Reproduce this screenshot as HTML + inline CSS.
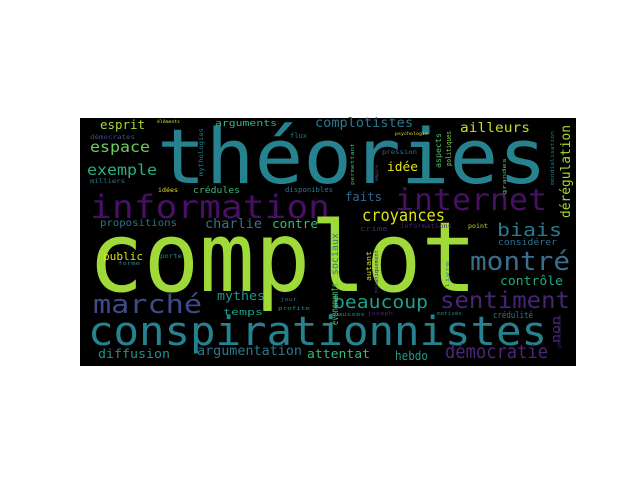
<!DOCTYPE html>
<html><head><meta charset="utf-8"><style>
html,body{margin:0;padding:0;background:#fff;width:640px;height:480px;overflow:hidden}
svg text{font-family:"DejaVu Sans Mono","Liberation Mono",monospace}
</style></head><body>
<svg width="640" height="480">
<rect x="80" y="118" width="496" height="248" fill="#000"/>
<text x="157" y="183" font-size="76" fill="#26828e" textLength="390" lengthAdjust="spacingAndGlyphs">théories</text>
<text x="90" y="218" font-size="32" fill="#471063" textLength="240" lengthAdjust="spacingAndGlyphs">information</text>
<text x="395" y="210" font-size="30" fill="#471063" textLength="152" lengthAdjust="spacingAndGlyphs">internet</text>
<text x="88" y="291" font-size="97" fill="#a0da39" textLength="389" lengthAdjust="spacingAndGlyphs">complot</text>
<text x="88" y="345" font-size="40" fill="#26828e" textLength="459" lengthAdjust="spacingAndGlyphs">conspirationnistes</text>
<text x="93" y="313" font-size="26" fill="#3e4a89" textLength="109" lengthAdjust="spacingAndGlyphs">marché</text>
<text x="470" y="270" font-size="26" fill="#3b6e8e" textLength="100" lengthAdjust="spacingAndGlyphs">montré</text>
<text x="440" y="308" font-size="23" fill="#482475" textLength="130" lengthAdjust="spacingAndGlyphs">sentiment</text>
<text x="333" y="308" font-size="18" fill="#1f9e89" textLength="95" lengthAdjust="spacingAndGlyphs">beaucoup</text>
<text x="445" y="358" font-size="19" fill="#482878" textLength="103" lengthAdjust="spacingAndGlyphs">démocratie</text>
<text x="362" y="221" font-size="17" fill="#dde318" textLength="83" lengthAdjust="spacingAndGlyphs">croyances</text>
<text x="497" y="236" font-size="18" fill="#2a7b8e" textLength="65" lengthAdjust="spacingAndGlyphs">biais</text>
<text x="87" y="175" font-size="15" fill="#2aae80" textLength="70" lengthAdjust="spacingAndGlyphs">exemple</text>
<text x="90" y="152" font-size="15" fill="#6ccd5a" textLength="60" lengthAdjust="spacingAndGlyphs">espace</text>
<text x="100" y="129" font-size="12" fill="#a8db34" textLength="45" lengthAdjust="spacingAndGlyphs">esprit</text>
<text x="215" y="126" font-size="9" fill="#35b779" textLength="62" lengthAdjust="spacingAndGlyphs">arguments</text>
<text x="315" y="127" font-size="13" fill="#2a788e" textLength="98" lengthAdjust="spacingAndGlyphs">complotistes</text>
<text x="460" y="132" font-size="13" fill="#c2df23" textLength="70" lengthAdjust="spacingAndGlyphs">ailleurs</text>
<text x="387" y="171" font-size="12" fill="#e5e419" textLength="31" lengthAdjust="spacingAndGlyphs">idée</text>
<text x="345" y="201" font-size="12" fill="#31688e" textLength="37" lengthAdjust="spacingAndGlyphs">faits</text>
<text x="272" y="228" font-size="12" fill="#3aba76" textLength="46" lengthAdjust="spacingAndGlyphs">contre</text>
<text x="205" y="228" font-size="13" fill="#3b6e8e" textLength="57" lengthAdjust="spacingAndGlyphs">charlie</text>
<text x="100" y="226" font-size="10" fill="#2c718e" textLength="77" lengthAdjust="spacingAndGlyphs">propositions</text>
<text x="193" y="193" font-size="9" fill="#3aba76" textLength="47" lengthAdjust="spacingAndGlyphs">crédules</text>
<text x="217" y="300" font-size="12" fill="#20928c" textLength="48" lengthAdjust="spacingAndGlyphs">mythes</text>
<text x="223" y="315" font-size="9" fill="#1f9e89" textLength="40" lengthAdjust="spacingAndGlyphs">temps</text>
<text x="103" y="260" font-size="11" fill="#d8e219" textLength="40" lengthAdjust="spacingAndGlyphs">public</text>
<text x="98" y="358" font-size="12" fill="#21918c" textLength="72" lengthAdjust="spacingAndGlyphs">diffusion</text>
<text x="197" y="355" font-size="13" fill="#2a788e" textLength="105" lengthAdjust="spacingAndGlyphs">argumentation</text>
<text x="307" y="358" font-size="12" fill="#35b779" textLength="63" lengthAdjust="spacingAndGlyphs">attentat</text>
<text x="395" y="360" font-size="12" fill="#1f9a8a" textLength="33" lengthAdjust="spacingAndGlyphs">hebdo</text>
<text x="500" y="285" font-size="12" fill="#22a884" textLength="63" lengthAdjust="spacingAndGlyphs">contrôle</text>
<text x="493" y="318" font-size="9" fill="#2a788e" textLength="40" lengthAdjust="spacingAndGlyphs">crédulité</text>
<text x="498" y="245" font-size="9" fill="#2c728e" textLength="59" lengthAdjust="spacingAndGlyphs">considérer</text>
<text x="285" y="192" font-size="7" fill="#2a788e" textLength="48" lengthAdjust="spacingAndGlyphs">disponibles</text>
<text x="290" y="138" font-size="7" fill="#2a788e" textLength="17" lengthAdjust="spacingAndGlyphs">flux</text>
<text x="90" y="139" font-size="6" fill="#3e4a89" textLength="45" lengthAdjust="spacingAndGlyphs">démocrates</text>
<text x="90" y="183" font-size="6" fill="#2a788e" textLength="35" lengthAdjust="spacingAndGlyphs">milliers</text>
<text x="158" y="192" font-size="6" fill="#d8e219" textLength="20" lengthAdjust="spacingAndGlyphs">idées</text>
<text x="468" y="228" font-size="6" fill="#b5de2b" textLength="20" lengthAdjust="spacingAndGlyphs">point</text>
<text x="360" y="231" font-size="7" fill="#482475" textLength="28" lengthAdjust="spacingAndGlyphs">crime</text>
<text x="400" y="228" font-size="6" fill="#482475" textLength="52" lengthAdjust="spacingAndGlyphs">informations</text>
<text x="382" y="154" font-size="6" fill="#31688e" textLength="35" lengthAdjust="spacingAndGlyphs">pression</text>
<text x="395" y="135" font-size="4" fill="#d8e219" textLength="33" lengthAdjust="spacingAndGlyphs">psychologie</text>
<text x="157" y="123" font-size="4" fill="#d8e219" textLength="23" lengthAdjust="spacingAndGlyphs">éléments</text>
<text x="160" y="258" font-size="6" fill="#26828e" textLength="22" lengthAdjust="spacingAndGlyphs">porte</text>
<text x="118" y="265" font-size="5" fill="#26828e" textLength="22" lengthAdjust="spacingAndGlyphs">forme</text>
<text x="280" y="301" font-size="5" fill="#31688e" textLength="17" lengthAdjust="spacingAndGlyphs">jour</text>
<text x="278" y="310" font-size="5" fill="#26828e" textLength="32" lengthAdjust="spacingAndGlyphs">profite</text>
<text x="333" y="316" font-size="5" fill="#26828e" textLength="32" lengthAdjust="spacingAndGlyphs">fausses</text>
<text x="367" y="315" font-size="5" fill="#482475" textLength="26" lengthAdjust="spacingAndGlyphs">joseph</text>
<text x="437" y="315" font-size="5" fill="#26828e" textLength="25" lengthAdjust="spacingAndGlyphs">motivés</text>
<text transform="translate(570,218) rotate(-90)" font-size="13" fill="#a8db34" textLength="93" lengthAdjust="spacingAndGlyphs">dérégulation</text>
<text transform="translate(560,343) rotate(-90)" font-size="12" fill="#482878" textLength="27" lengthAdjust="spacingAndGlyphs">non</text>
<text transform="translate(338,325) rotate(-90)" font-size="10" fill="#4ac16d" textLength="42" lengthAdjust="spacingAndGlyphs">événements</text>
<text transform="translate(338,275) rotate(-90)" font-size="10" fill="#2a788e" textLength="42" lengthAdjust="spacingAndGlyphs">sociaux</text>
<text transform="translate(371,281) rotate(-90)" font-size="7" fill="#d0e11c" textLength="30" lengthAdjust="spacingAndGlyphs">autant</text>
<text transform="translate(378,293) rotate(-90)" font-size="5" fill="#482475" textLength="43" lengthAdjust="spacingAndGlyphs">mécaniquement</text>
<text transform="translate(441,168) rotate(-90)" font-size="8" fill="#4ac16d" textLength="35" lengthAdjust="spacingAndGlyphs">aspects</text>
<text transform="translate(451,166) rotate(-90)" font-size="7" fill="#7ad151" textLength="35" lengthAdjust="spacingAndGlyphs">politiques</text>
<text transform="translate(203,176) rotate(-90)" font-size="6" fill="#2a788e" textLength="48" lengthAdjust="spacingAndGlyphs">mythologies</text>
<text transform="translate(354,185) rotate(-90)" font-size="5" fill="#35b779" textLength="42" lengthAdjust="spacingAndGlyphs">permettant</text>
<text transform="translate(378,181) rotate(-90)" font-size="4" fill="#31688e" textLength="16" lengthAdjust="spacingAndGlyphs">empire</text>
<text transform="translate(506,195) rotate(-90)" font-size="5" fill="#4ac16d" textLength="37" lengthAdjust="spacingAndGlyphs">grandes</text>
<text transform="translate(554,185) rotate(-90)" font-size="5" fill="#2a788e" textLength="54" lengthAdjust="spacingAndGlyphs">mondialisation</text>
<text transform="translate(449,288) rotate(-90)" font-size="5" fill="#26828e" textLength="27" lengthAdjust="spacingAndGlyphs">livre</text>
<text transform="translate(561,348) rotate(-90)" font-size="5" fill="#482475" textLength="33" lengthAdjust="spacingAndGlyphs">phénomènes</text>
</svg>
</body></html>
